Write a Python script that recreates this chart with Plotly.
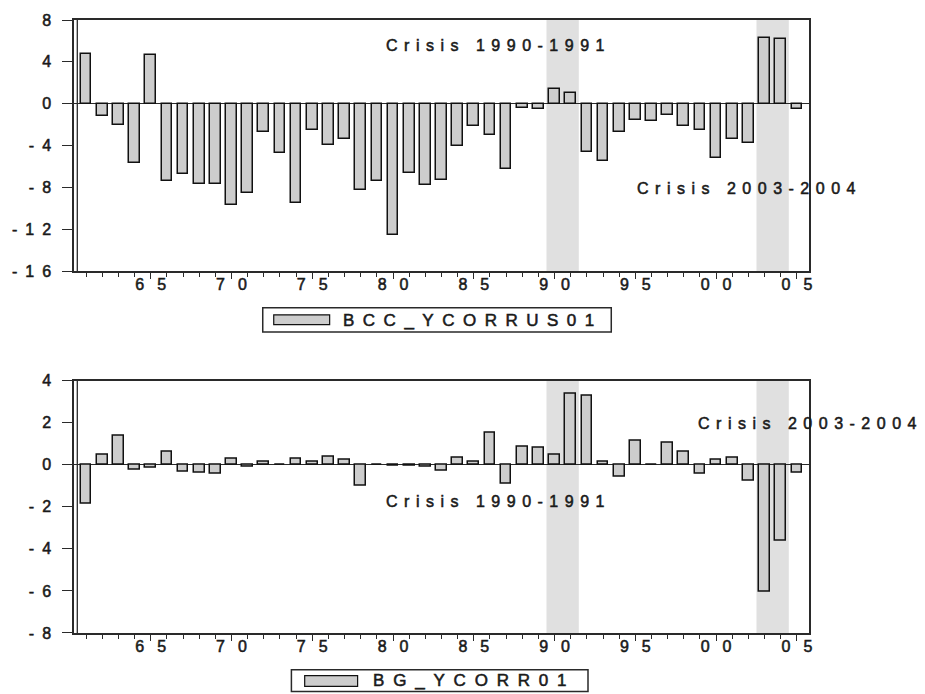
import plotly.graph_objects as go
from plotly.subplots import make_subplots

years = list(range(1961, 2006))

bcc_ycorrus01 = [4.8, -1.2, -2.0, -5.7, 4.7, -7.4, -6.7, -7.7, -7.7, -9.7,
                 -8.5, -2.7, -4.7, -9.5, -2.5, -3.9, -3.4, -8.2, -7.4, -12.5,
                 -6.6, -7.8, -7.3, -4.0, -2.1, -3.0, -6.2, -0.4, -0.5, 1.4,
                 1.0, -4.6, -5.5, -2.7, -1.5, -1.6, -1.1, -2.1, -2.5, -5.2,
                 -3.4, -3.7, 6.3, 6.2, -0.5]

bg_ycorr01 = [-1.85, 0.50, 1.37, -0.25, -0.14, 0.63, -0.32, -0.38, -0.41, 0.28,
              -0.09, 0.13, 0.0, 0.28, 0.16, 0.38, 0.24, -0.98, 0.02, -0.03,
              -0.04, -0.11, -0.27, 0.35, 0.17, 1.53, -0.90, 0.88, 0.82, 0.47,
              3.39, 3.30, 0.17, -0.57, 1.14, 0.0, 1.07, 0.63, -0.44, 0.22,
              0.33, -0.77, -6.03, -3.63, -0.38]

series_names = ["BCC_YCORRUS01", "BG_YCORR01"]
crisis_periods = [(1990, 1991), (2003, 2004)]
crisis_labels = ["Crisis 1990-1991", "Crisis 2003-2004"]

x_tickvals = [1965, 1970, 1975, 1980, 1985, 1990, 1995, 2000, 2005]
x_ticktext = ["65", "70", "75", "80", "85", "90", "95", "00", "05"]
top_yticks = [8, 4, 0, -4, -8, -12, -16]
bot_yticks = [4, 2, 0, -2, -4, -6, -8]

FONT = "Liberation Sans, Arial, sans-serif"
TXT = "#1a1a1a"
FRAME = "#2a2a2a"
STROKE = "stroke:#1a1a1a;stroke-width:0.55px"


def spaced(text, s):
    if len(text) <= 1:
        return "<span style='%s'>%s</span>" % (STROKE, text)
    return ("<span style='letter-spacing:%spx;%s'>%s</span><span style='%s'>%s</span>"
            % (s, STROKE, text[:-1], STROKE, text[-1]))


fig = make_subplots(rows=2, cols=1, vertical_spacing=0.0)

for row, vals in ((1, bcc_ycorrus01), (2, bg_ycorr01)):
    fig.add_trace(go.Bar(x=years, y=vals, width=0.66,
                         marker=dict(color="#cdcdcd", line=dict(color="#111111", width=1.5)),
                         showlegend=False), row=row, col=1)

top_dom = [(633 - 269) / 617, 1.0]
bot_dom = [0.0, (633 - 379) / 617]

xcommon = dict(range=[1960.25, 2005.75], tickmode="array", tickvals=x_tickvals,
               ticktext=[spaced(t, 13) for t in x_ticktext],
               ticks="outside", ticklen=6, tickwidth=1.3, tickcolor=FRAME,
               minor=dict(tick0=1960, dtick=1, ticks="outside", ticklen=4, tickwidth=1.3, tickcolor=FRAME),
               showline=True, linecolor=FRAME, linewidth=1.5, mirror=True,
               showgrid=False, zeroline=False, ticklabelstandoff=-8,
               tickfont=dict(family=FONT, size=16, color=TXT))
fig.update_xaxes(**xcommon)

ycommon = dict(ticks="outside", ticklen=10, tickwidth=1.3, tickcolor=FRAME,
               showline=True, linecolor=FRAME, linewidth=1.5, mirror=True,
               showgrid=False, zeroline=True, zerolinecolor=FRAME, zerolinewidth=1.3,
               tickmode="array", ticklabelstandoff=8,
               tickfont=dict(family=FONT, size=16, color=TXT))
fig.update_yaxes(range=[-16, 8], tickvals=top_yticks,
                 ticktext=[spaced(str(v), 8) for v in top_yticks], domain=top_dom, row=1, col=1, **ycommon)
fig.update_yaxes(range=[-8, 4], tickvals=bot_yticks,
                 ticktext=[spaced(str(v), 8) for v in bot_yticks], domain=bot_dom, row=2, col=1, **ycommon)

shapes = []
for xr, yr in (("x", "y domain"), ("x2", "y2 domain")):
    for a, b in crisis_periods:
        shapes.append(dict(type="rect", xref=xr, yref=yr, x0=a - 0.5, x1=b + 0.5, y0=0, y1=1,
                           fillcolor="#e0e0e0", line=dict(width=0), layer="below"))
    # inner double line of left frame
    shapes.append(dict(type="line", xref="paper", yref=yr,
                       x0=3.3 / 736, x1=3.3 / 736, y0=0, y1=1, line=dict(color=FRAME, width=1.3)))

annos = []
lab_font = dict(family=FONT, size=16, color=TXT)
annos.append(dict(x=1986.34, y=5.55, xref="x", yref="y", text=spaced(crisis_labels[0], 6.5),
                  showarrow=False, font=lab_font))
annos.append(dict(x=2001.9, y=-8.05, xref="x", yref="y", text=spaced(crisis_labels[1], 6.5),
                  showarrow=False, font=lab_font))
annos.append(dict(x=1986.34, y=-1.75, xref="x2", yref="y2", text=spaced(crisis_labels[0], 6.5),
                  showarrow=False, font=lab_font))
annos.append(dict(x=2005.66, y=1.98, xref="x2", yref="y2", text=spaced(crisis_labels[1], 6.5),
                  showarrow=False, font=lab_font))


def px(xp):
    return (xp - 73) / 736


def py(yp):
    return (633 - yp) / 617


legends = [
    ((262, 611, 305.7, 330), (273, 329, 312.7, 322.7), (340, 318), spaced(series_names[0], 8.5)),
    ((290.7, 587.7, 670, 692), (304, 357, 676, 686.7), (370, 681), spaced(series_names[1], 8.8)),
]
for box, sw, (tx, ty), label in legends:
    shapes.append(dict(type="rect", xref="paper", yref="paper", x0=px(box[0]), x1=px(box[1]),
                       y0=py(box[3]), y1=py(box[2]), line=dict(color=FRAME, width=1.5), fillcolor="white"))
    shapes.append(dict(type="rect", xref="paper", yref="paper", x0=px(sw[0]), x1=px(sw[1]),
                       y0=py(sw[3]), y1=py(sw[2]), line=dict(color="#111111", width=1.2), fillcolor="#cdcdcd"))
    annos.append(dict(x=px(tx), y=py(ty), xref="paper", yref="paper", xanchor="left", yanchor="middle",
                      text=label, showarrow=False, font=dict(family=FONT, size=17, color=TXT)))

fig.update_layout(width=925, height=694, margin=dict(l=73, r=116, t=16, b=61),
                  paper_bgcolor="white", plot_bgcolor="white", bargap=0,
                  shapes=shapes, annotations=annos, showlegend=False)

fig.write_html("out.html")
